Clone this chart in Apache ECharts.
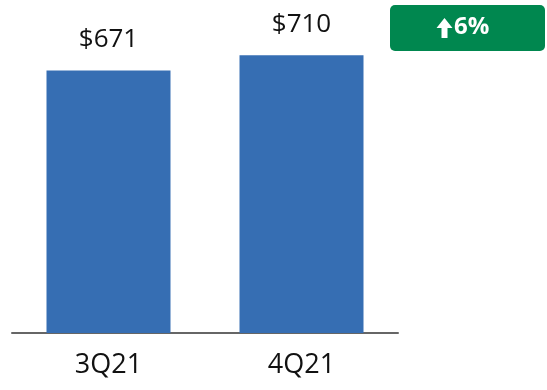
<!DOCTYPE html>
<html>
<head>
<meta charset="utf-8">
<script src="https://cdn.jsdelivr.net/npm/echarts@6/dist/echarts.min.js"></script>
<style>
  html, body { margin: 0; padding: 0; background: #fff; }
  #charts { width: 547px; height: 390px; }
</style>
</head>
<body>
<div id="charts"></div>
<script>
var categories = ['3Q21', '4Q21'];
var values = [671, 710];
var badgeText = '6%';

var myChart = echarts.init(document.getElementById('charts'));

var option = {
    animation: false,
    grid: { left: 12, right: 149, top: 20, bottom: 57 },
    xAxis: {
        type: 'category',
        data: categories,
        axisLine: { lineStyle: { color: '#666666', width: 2 } },
        axisTick: { show: false },
        axisLabel: {
            color: '#111111',
            fontFamily: 'Open Sans',
            fontSize: 27,
            margin: 19
        }
    },
    yAxis: {
        type: 'value',
        min: 0,
        max: 800,
        show: false
    },
    series: [
        {
            type: 'bar',
            data: values,
            barWidth: 124,
            itemStyle: { color: '#366EB3' },
            label: {
                show: true,
                position: 'top',
                distance: 18,
                color: '#111111',
                fontFamily: 'Open Sans',
                fontSize: 26,
                formatter: function (p) { return '$' + p.value; }
            }
        }
    ],
    graphic: [
        {
            type: 'rect',
            left: 390,
            top: 5,
            shape: { width: 155, height: 46, r: 5 },
            style: { fill: '#00874F' }
        },
        {
            type: 'polygon',
            shape: {
                points: [[444.5, 18], [452.5, 28], [447.5, 28], [447.5, 38], [441.5, 38], [441.5, 28], [436.5, 28]]
            },
            style: { fill: '#ffffff' }
        },
        {
            type: 'text',
            left: 454,
            top: 15,
            style: {
                text: badgeText,
                fill: '#ffffff',
                font: 'bold 24px "Open Sans"'
            }
        }
    ]
};

myChart.setOption(option);
</script>
</body>
</html>
